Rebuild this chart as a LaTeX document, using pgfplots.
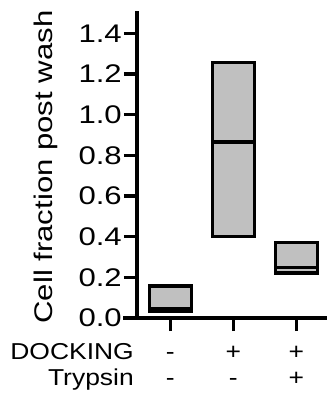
\documentclass[border=0pt]{standalone}
\usepackage{fontspec}
\setmainfont{Liberation Sans}[FakeStretch=1.15]
\newfontfamily\labfont{Liberation Sans}[FakeStretch=1.22]
\usepackage{pgfplots}
\pgfplotsset{compat=1.18}
\definecolor{boxgray}{RGB}{192,192,192}
\begin{document}
\fontsize{23}{26}\selectfont
\begin{tikzpicture}
\useasboundingbox (-137pt,-85pt) rectangle (189pt,318pt);
\begin{axis}[
  at={(0,0)}, anchor=south west,
  scale only axis, width=189pt, height=305pt,
  xmin=-0.53, xmax=2.47, ymin=0, ymax=1.5,
  axis x line*=bottom, axis y line*=left,
  axis line style={line width=3.6pt, line cap=rect},
  x axis line style={line width=3.6pt},
  y axis line style={line width=3.6pt},
  tick align=outside, major tick length=13pt,
  every tick/.style={line width=3.4pt, black},
  ytick={0,0.2,0.4,0.6,0.8,1.0,1.2,1.4},
  /pgf/number format/fixed,
  /pgf/number format/fixed zerofill,
  /pgf/number format/precision=1,
  /pgf/number format/assume math mode=true,
  yticklabel style={font=\labfont\fontsize{25.5}{28}\selectfont, inner sep=2pt},
  xtick={0,1,2},
  xticklabels={{\strut-\\\strut-},{\strut+\\\strut-},{\strut+\\\strut+}},
  xticklabel style={align=center, font=\fontsize{23}{26}\selectfont, inner sep=1pt, yshift=-9pt},
  ylabel={Cell fraction post wash},
  ylabel style={at={(axis description cs:-0.48,0.495)}, anchor=center, font=\labfont\fontsize{25.5}{28}\selectfont},
  clip=false,
]
% floating boxes: min to max, with median line
\addplot[draw=black, fill=boxgray, line width=3.3pt, line join=miter]
  coordinates {(-0.33,0.034) (0.33,0.034) (0.33,0.157) (-0.33,0.157)} -- cycle;
\addplot[draw=black, line width=3.3pt] coordinates {(-0.33,0.046) (0.33,0.046)};
\addplot[draw=black, fill=boxgray, line width=3.3pt, line join=miter]
  coordinates {(0.67,0.40) (1.33,0.40) (1.33,1.255) (0.67,1.255)} -- cycle;
\addplot[draw=black, line width=3.3pt] coordinates {(0.67,0.865) (1.33,0.865)};
\addplot[draw=black, fill=boxgray, line width=3.3pt, line join=miter]
  coordinates {(1.67,0.222) (2.33,0.222) (2.33,0.372) (1.67,0.372)} -- cycle;
\addplot[draw=black, line width=3.3pt] coordinates {(1.67,0.247) (2.33,0.247)};
\draw[line width=3.6pt, line cap=rect] (axis cs:-0.53,0) -- (axis cs:-0.72,0);
\draw[line width=3.4pt, black] (axis cs:0,0) -- (axis cs:0,-0.064);
\draw[line width=3.4pt, black] (axis cs:1,0) -- (axis cs:1,-0.064);
\draw[line width=3.4pt, black] (axis cs:2,0) -- (axis cs:2,-0.064);
\node[anchor=north east, align=right, inner sep=1pt, font=\fontsize{23}{26}\selectfont]
  at (axis cs:-0.53,0) [xshift=-2pt, yshift=-22pt] {\strut DOCKING\\\strut Trypsin};
\end{axis}
\end{tikzpicture}
\end{document}
